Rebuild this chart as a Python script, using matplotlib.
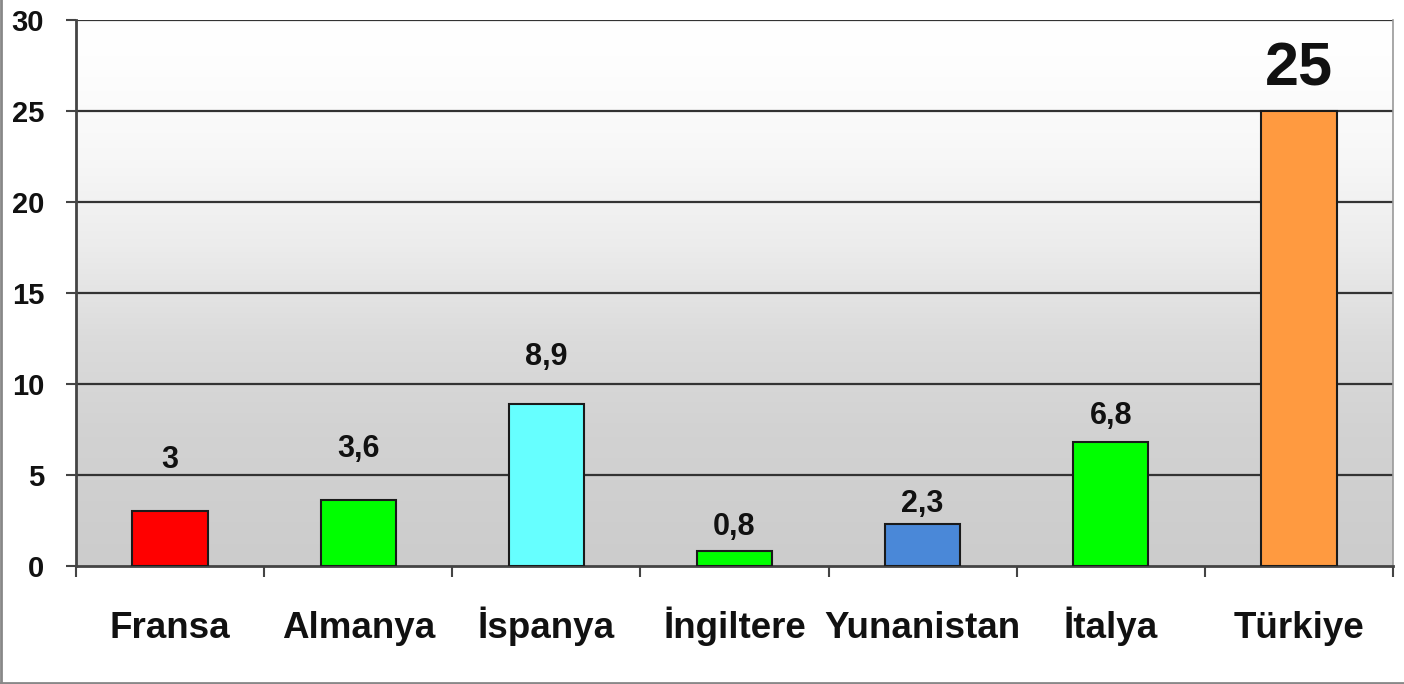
import matplotlib
matplotlib.use("Agg")
import matplotlib.pyplot as plt
import numpy as np

categories = ["Fransa", "Almanya", "İspanya", "İngiltere", "Yunanistan", "İtalya", "Türkiye"]
values = [3.0, 3.6, 8.9, 0.8, 2.3, 6.8, 25.0]
value_labels = ["3", "3,6", "8,9", "0,8", "2,3", "6,8", "25"]
bar_colors = ["#FF0000", "#00FF00", "#66FFFF", "#00FF00", "#4A88D8", "#00FF00", "#FF9A40"]
yticks = [0, 5, 10, 15, 20, 25, 30]

# label offsets above bar tops (points) - styling
label_offsets = [31, 31.5, 28, 11.5, 8.6, 13, 18.7]

plt.rcParams['font.family'] = ['Liberation Sans', 'DejaVu Sans']

fig = plt.figure(figsize=(14.04, 6.84), dpi=100)
fig.patch.set_facecolor("white")
ax = fig.add_axes([76/1404, 118/684, (1393-76)/1404, (566-20)/684])

n = len(categories)
x = np.arange(n)

# gradient background: row 0 = bottom (dark), last row = top (white)
ys = np.linspace(0, 30, 300)
g = np.interp(ys, [0, 7.5, 12.5, 17.5, 22.5, 27.5, 30],
              [0.80, 0.825, 0.86, 0.925, 0.97, 0.995, 1.0]).reshape(-1, 1)
img = np.dstack([g, g, g])
ax.imshow(img, extent=(-0.5, n - 0.5, 0, 30), aspect="auto", zorder=0,
          origin="lower", interpolation="bicubic")
ax.set_xlim(-0.5, n - 0.5)
ax.set_ylim(0, 30)

for yv in yticks[1:]:
    ax.axhline(yv, color="#333333", linewidth=1.6, zorder=1)

ax.bar(x, values, width=0.4, color=bar_colors, edgecolor="#1a1a1a",
       linewidth=1.5, zorder=3)

for i, (v, lab) in enumerate(zip(values, value_labels)):
    fs = 44 if i == n - 1 else 22
    ax.annotate(lab, (x[i], v), xytext=(0, label_offsets[i]), textcoords="offset points",
                ha="center", va="baseline", fontsize=fs, fontweight="bold",
                color="#111111", zorder=4)

ax.set_yticks(yticks)
ax.set_yticklabels([str(t) for t in yticks], fontsize=21, fontweight="bold", color="#111111")
ax.tick_params(axis="y", length=7, width=1.5, color="#444444", direction="out", pad=16)

ax.set_xticks(np.arange(-0.5, n, 1.0))
ax.set_xticklabels([])
ax.set_xticks(x, minor=True)
ax.set_xticklabels(categories, minor=True, fontsize=26.5, fontweight="bold", color="#111111")
ax.tick_params(axis="x", which="major", length=8, width=1.5, color="#444444", direction="out")
ax.tick_params(axis="x", which="minor", length=0, pad=52)
for lbl in ax.get_xticklabels(minor=True):
    lbl.set_verticalalignment("baseline")

for side in ["left", "bottom"]:
    ax.spines[side].set_color("#444444")
    ax.spines[side].set_linewidth(2.0)
ax.spines["right"].set_color("#999999")
ax.spines["right"].set_linewidth(1.2)
ax.spines["top"].set_visible(False)

# outer frame lines (left and bottom) of the image
fig.add_artist(plt.Line2D([0.001, 0.001], [0, 1], color="#888888", linewidth=2, transform=fig.transFigure))
fig.add_artist(plt.Line2D([0, 1], [0.002, 0.002], color="#888888", linewidth=2, transform=fig.transFigure))

fig.savefig("out.png", dpi=100, facecolor="white")
